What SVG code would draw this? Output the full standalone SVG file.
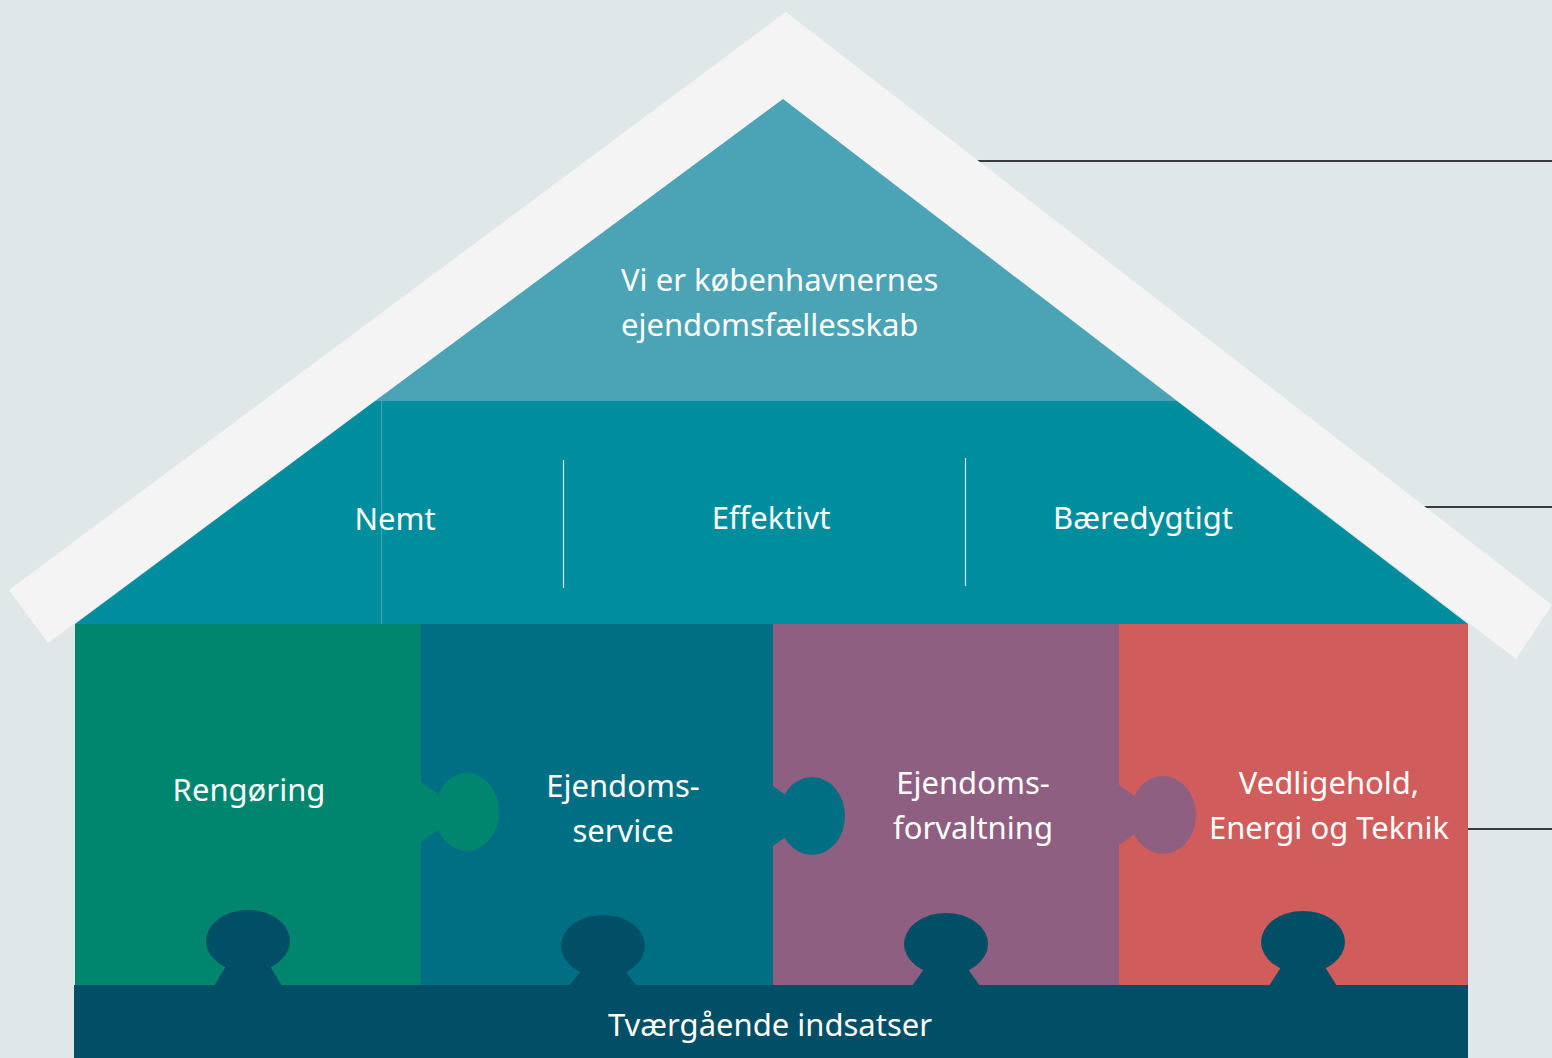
<svg xmlns="http://www.w3.org/2000/svg" width="1552" height="1058" viewBox="0 0 1552 1058">
<style>
.t{font-family:"Noto Sans","Liberation Sans",sans-serif;font-size:31px;fill:#ffffff}
.c{text-anchor:middle}
.ln{stroke:#000;stroke-width:1.5}
.div{stroke:#ffffff;stroke-width:1.2;opacity:0.8}
.navy{fill:#004F66}
</style>
<rect width="1552" height="1058" fill="#E0E7E9"/>
<g id="connectors">
<line class="ln" x1="960" y1="161" x2="1552" y2="161"/>
<line class="ln" x1="1410" y1="507" x2="1552" y2="507"/>
<line class="ln" x1="1460" y1="829" x2="1552" y2="829"/>
</g>
<g id="roof">
<polygon points="9,590 786,12 1552,605 1516,659 783,99 48,643" fill="#F4F4F4"/>
</g>
<g id="vision">
<polygon points="783,99 375,401 1177,401" fill="#4BA3B6"/>
<text class="t" x="621" y="291">Vi er københavnernes</text>
<text class="t" x="621" y="336">ejendomsfællesskab</text>
</g>
<g id="values">
<polygon points="375,401 1177,401 1468,624 75,624" fill="#008E9E"/>
<line x1="381.5" y1="401" x2="381.5" y2="624" stroke="#3FA6B3" stroke-width="1"/>
<line class="div" x1="563.5" y1="460" x2="563.5" y2="588"/>
<line class="div" x1="965.5" y1="458" x2="965.5" y2="586"/>
<text class="t c" x="395" y="530">Nemt</text>
<text class="t c" x="771" y="529">Effektivt</text>
<text class="t c" x="1143" y="529">Bæredygtigt</text>
</g>
<g id="rengoring">
<rect x="75" y="624" width="346" height="361" fill="#00866F"/>
<text class="t c" x="249" y="801">Rengøring</text>
</g>
<g id="ejendomsservice">
<rect x="421" y="624" width="352" height="361" fill="#006F84"/>
<polygon points="421,782 438,794 438,830 421,842" fill="#00866F"/>
<ellipse cx="467" cy="812" rx="32" ry="39" fill="#00866F"/>
<text class="t c" x="623" y="797">Ejendoms-</text>
<text class="t c" x="623" y="842">service</text>
</g>
<g id="ejendomsforvaltning">
<rect x="773" y="624" width="346" height="361" fill="#8F5F82"/>
<polygon points="773,786 790,798 790,834 773,846" fill="#006F84"/>
<ellipse cx="812" cy="816" rx="33" ry="39" fill="#006F84"/>
<text class="t c" x="973" y="794">Ejendoms-</text>
<text class="t c" x="973" y="839">forvaltning</text>
</g>
<g id="vedligehold">
<rect x="1119" y="624" width="349" height="361" fill="#D15C5C"/>
<polygon points="1119,785 1136,797 1136,833 1119,845" fill="#8F5F82"/>
<ellipse cx="1163" cy="815" rx="33" ry="39" fill="#8F5F82"/>
<text class="t c" x="1329" y="794">Vedligehold,</text>
<text class="t c" x="1329" y="839">Energi og Teknik</text>
</g>
<g id="tvaergaaende">
<rect x="74" y="985" width="1394" height="73" class="navy"/>
<ellipse class="navy" cx="248" cy="941" rx="42" ry="31"/>
<polygon class="navy" points="226,966 270,966 282,986 214,986"/>
<ellipse class="navy" cx="603" cy="946" rx="42" ry="31"/>
<polygon class="navy" points="581,971 625,971 637,986 569,986"/>
<ellipse class="navy" cx="946" cy="944" rx="42" ry="31"/>
<polygon class="navy" points="924,969 968,969 980,986 912,986"/>
<ellipse class="navy" cx="1303" cy="942" rx="42" ry="31"/>
<polygon class="navy" points="1281,967 1325,967 1337,986 1269,986"/>
<text class="t c" x="770" y="1036">Tværgående indsatser</text>
</g>
</svg>
